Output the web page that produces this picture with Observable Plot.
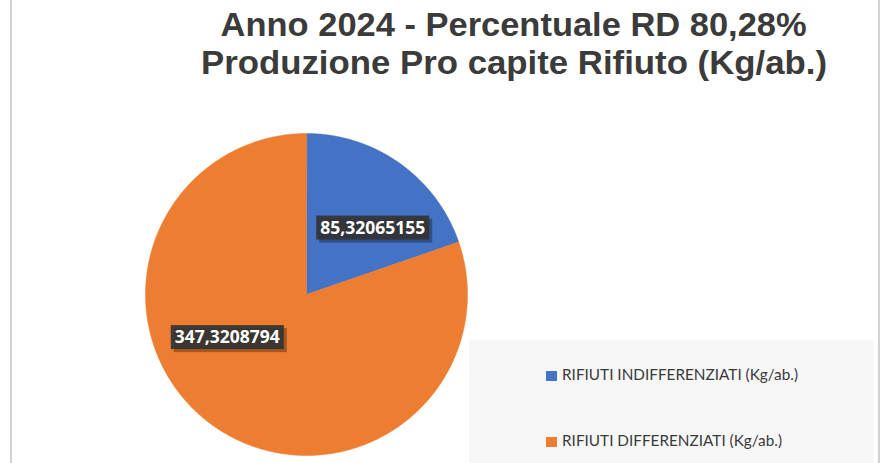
<!DOCTYPE html>
<html><head><meta charset="utf-8">
<script src="https://cdn.jsdelivr.net/npm/d3@7"></script>
<script src="https://cdn.jsdelivr.net/npm/@observablehq/plot@0.6"></script>
<style>
html,body{margin:0;padding:0;background:#fff;}
#wrap{position:relative;width:886px;height:463px;overflow:hidden;background:#fff;}
.border{position:absolute;top:0;width:2px;height:463px;background:#d2d2d2;}
.tline{position:absolute;left:71px;width:886px;text-align:center;font-family:"Liberation Sans",Arial,sans-serif;font-weight:bold;font-size:33px;line-height:33px;color:#3b3b3b;white-space:nowrap;}
.tline span{display:inline-block;transform-origin:50% 50%;}
#legend{position:absolute;left:469px;top:340px;width:405px;height:130px;background:#f7f7f7;z-index:2;}
.sw{position:absolute;width:11px;height:10px;z-index:3;}
.ltxt{position:absolute;left:562px;font-family:Lato,"Open Sans",sans-serif;font-size:15px;line-height:15px;color:#3a3a3a;white-space:nowrap;transform-origin:0 50%;z-index:3;}
svg{position:absolute;left:0;top:0;}
</style></head>
<body><div id="wrap"></div>
<script>
const categories = ["RIFIUTI INDIFFERENZIATI (Kg/ab.)", "RIFIUTI DIFFERENZIATI (Kg/ab.)"];
const values = [85.32065155, 347.3208794];
const valueLabels = ["85,32065155", "347,3208794"];
const colors = ["#4472C4", "#ED7D31"];
const titleLines = ["Anno 2024 - Percentuale RD 80,28%", "Produzione Pro capite Rifiuto (Kg/ab.)"];

const wrap = document.getElementById("wrap");

// slices as closed polygons on a unit circle (angles from d3.pie)
const arcs = d3.pie().sort(null).value(d => d)(values);
const poly = [];
arcs.forEach((a, i) => {
  poly.push({name: categories[i], x: 0, y: 0});
  const n = Math.max(2, Math.ceil((a.endAngle - a.startAngle) / (Math.PI / 360)));
  for (let k = 0; k <= n; k++) {
    const t = a.startAngle + (a.endAngle - a.startAngle) * k / n;
    poly.push({name: categories[i], x: Math.sin(t), y: Math.cos(t)});
  }
});
const labels = arcs.map((a, i) => {
  const m = (a.startAngle + a.endAngle) / 2;
  return {name: categories[i], text: valueLabels[i], x: 0.58 * Math.sin(m), y: 0.58 * Math.cos(m)};
});

const labelStyle = {x: "x", y: "y", text: "text", fill: "white", fontSize: 17.5, fontWeight: "bold",
  fontFamily: "Open Sans", textAnchor: "middle"};

const chart = Plot.plot({
  width: 886, height: 463, margin: 0,
  x: {domain: [-1, 1], range: [145, 467], axis: null},
  y: {domain: [-1, 1], range: [455, 133], axis: null},
  color: {domain: categories, range: colors},
  style: {background: "transparent", overflow: "visible"},
  marks: [
    Plot.line(poly, {x: "x", y: "y", z: "name", fill: "name", stroke: "name", strokeWidth: 0.5, curve: "linear-closed"}),
    Plot.text([labels[0]], {...labelStyle, dx: 12, dy: 9.5}),
    Plot.text([labels[1]], {...labelStyle, dx: -25, dy: -33})
  ]
});
wrap.appendChild(chart);

// dark boxes behind data labels
const ns = "http://www.w3.org/2000/svg";
chart.querySelectorAll('g[aria-label="text"] text').forEach(t => {
  const b = t.getBBox();
  const tr = t.getAttribute("transform");
  const mk = (ox, oy, fill) => {
    const r = document.createElementNS(ns, "rect");
    r.setAttribute("x", b.x - 4 + ox);
    r.setAttribute("y", b.y + 1 + oy);
    r.setAttribute("width", b.width + 8);
    r.setAttribute("height", b.height);
    r.setAttribute("fill", fill);
    if (tr) r.setAttribute("transform", tr);
    t.parentNode.insertBefore(r, t);
  };
  mk(3, 3, "rgba(0,0,0,0.3)");
  mk(0, 0, "rgba(52,52,52,0.93)");
});

// borders
[10, 878].forEach(x => {
  const d = document.createElement("div");
  d.className = "border"; d.style.left = x + "px";
  wrap.appendChild(d);
});

// title
const titleTops = [8, 46];
const titleWidths = [586, 626];
titleLines.forEach((s, i) => {
  const d = document.createElement("div");
  d.className = "tline"; d.style.top = titleTops[i] + "px";
  const sp = document.createElement("span");
  sp.textContent = s;
  d.appendChild(sp);
  wrap.appendChild(d);
  const w = sp.getBoundingClientRect().width;
  sp.style.transform = `scaleX(${titleWidths[i] / w})`;
});

// legend
const lg = document.createElement("div");
lg.id = "legend";
wrap.appendChild(lg);
const swTops = [371, 437];
const txtTops = [367, 433];
const txtWidths = [236, 220];
categories.forEach((c, i) => {
  const s = document.createElement("div");
  s.className = "sw";
  s.style.left = "546px"; s.style.top = swTops[i] + "px"; s.style.background = colors[i];
  wrap.appendChild(s);
  const t = document.createElement("div");
  t.className = "ltxt"; t.style.top = txtTops[i] + "px";
  t.textContent = c;
  wrap.appendChild(t);
  const w = t.getBoundingClientRect().width;
  t.style.transform = `scaleX(${txtWidths[i] / w})`;
});
</script>
</body></html>
